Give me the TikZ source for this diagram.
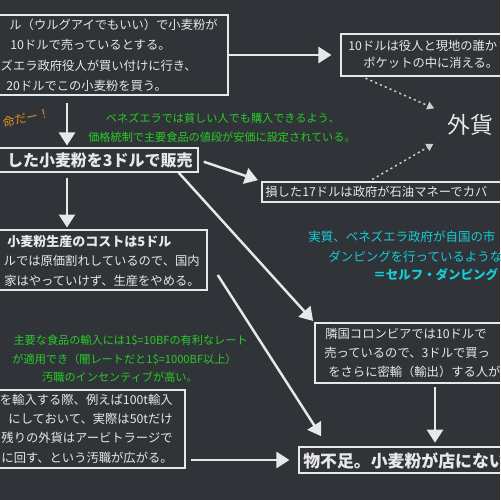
\documentclass[tikz,border=0pt]{standalone}
\usepackage{fontspec}
\setmainfont{Noto Sans CJK JP}
\usetikzlibrary{arrows.meta,fit,positioning}
\definecolor{board}{RGB}{48,51,55}
\definecolor{chalk}{RGB}{232,232,232}
\definecolor{chalkgreen}{RGB}{40,205,40}
\definecolor{chalkcyan}{RGB}{20,205,215}
\definecolor{chalkorange}{RGB}{232,140,30}

\begin{document}
\begin{tikzpicture}[x=0.02cm,y=-0.02cm,
box/.style={draw=chalk,line width=0.85pt,inner sep=0pt},
txt/.style={text=chalk,inner sep=0pt,font=\fontsize{7pt}{8pt}\selectfont},
txtb/.style={txt,font=\fontsize{7.4pt}{8pt}\selectfont\bfseries},
head/.style={txt,font=\fontsize{9.1pt}{10pt}\selectfont\bfseries},
note/.style={text=chalkgreen,inner sep=0pt,font=\fontsize{6.35pt}{7pt}\selectfont},
dump/.style={text=chalkcyan,inner sep=0pt,font=\fontsize{7.1pt}{8pt}\selectfont},
chalkarrow/.style={draw=chalk,line width=1.4pt,-{Triangle[width=0.32cm,length=0.26cm]}},
chalkdots/.style={draw=chalk!85!board,line width=0.85pt,dash pattern=on 1.2pt off 1.8pt,-{Triangle[width=0.16cm,length=0.14cm]}}]
\fill[board] (0,0) rectangle (500,500);
\clip (0,0) rectangle (500,500);
\node[box,fit={(-20,15) (228,95)}] (buy) {};
\node[box,fit={(341,34) (520,76)}] (leak) {};
\node[box,fit={(-20,148) (198,172)}] (sell) {};
\node[box,fit={(262,182) (520,202)}] (cover) {};
\node[box,fit={(-20,230) (207,290)}] (cost) {};
\node[box,fit={(315,323) (520,383)}] (smuggle) {};
\node[box,fit={(-20,390) (185,468)}] (graft) {};
\node[box,fit={(299,447) (520,473)}] (shortage) {};
\node[txt,anchor=east] (buy1) at (218,25) {ル（ウルグアイでもいい）で小麦粉が};
\node[txt,anchor=west] (buy2) at (10,45) {10ドルで売っているとする。};
\node[txt,anchor=east] (buy3) at (197,66) {ズエラ政府役人が買い付けに行き、};
\node[txt,anchor=west] (buy4) at (6,86) {20ドルでこの小麦粉を買う。};
\node[txt,anchor=west] (leak1) at (348,46) {10ドルは役人と現地の誰か};
\node[txt,anchor=west] (leak2) at (363,63) {ポケットの中に消える。};
\node[text=chalk,inner sep=0pt,font=\fontsize{13pt}{14pt}\selectfont,anchor=west] (fx) at (447,125) {外貨};
\node[text=chalkorange,inner sep=0pt,font=\fontsize{6.8pt}{8pt}\selectfont,anchor=east,rotate=12] (cry) at (50,113) {命だー！};
\node[note] (price1) at (223,118) {ベネズエラでは貧しい人でも購入できるよう、};
\node[note] (price2) at (222,137) {価格統制で主要食品の値段が安価に設定されている。};
\node[head,anchor=east] (sell1) at (193,160) {した小麦粉を3ドルで販売};
\node[txt,anchor=west] (cover1) at (265,192) {損した17ドルは政府が石油マネーでカバ};
\node[txtb,anchor=west] (cost1) at (7,242) {小麦粉生産のコストは5ドル};
\node[txt,anchor=east] (cost2) at (200,261) {ルでは原価割れしているので、国内};
\node[txt,anchor=east] (cost3) at (200,281) {家はやっていけず、生産をやめる。};
\node[dump,anchor=west] (dump1) at (308,237) {実質、ベネズエラ政府が自国の市};
\node[dump,anchor=west] (dump2) at (328,257) {ダンピングを行っているような};
\node[dump,font=\fontsize{7.1pt}{8pt}\selectfont\bfseries,anchor=west] (dump3) at (373,275) {＝セルフ・ダンピング};
\node[note,anchor=east] (rate1) at (248,340) {主要な食品の輸入には1\$=10BFの有利なレート};
\node[note,anchor=east] (rate2) at (237,359) {が適用でき（闇レートだと1\$=1000BF以上）};
\node[note] (rate3) at (120,377) {汚職のインセンティブが高い。};
\node[txt,anchor=west] (smuggle1) at (325,334) {隣国コロンビアでは10ドルで};
\node[txt,anchor=west] (smuggle2) at (324,353) {売っているので、3ドルで買っ};
\node[txt,anchor=west] (smuggle3) at (328,372) {をさらに密輸（輸出）する人が};
\node[txt,anchor=east] (graft1) at (173,400) {を輸入する際、例えば100t輸入};
\node[txt,anchor=east] (graft2) at (173,419) {にしておいて、実際は50tだけ};
\node[txt,anchor=east] (graft3) at (173,438) {残りの外貨はアービトラージで};
\node[txt,anchor=east] (graft4) at (173,458) {に回す、という汚職が広がる。};
\node[txt,font=\fontsize{9.6pt}{10pt}\selectfont\bfseries,anchor=west] (short1) at (303,461) {物不足。小麦粉が店にない};
\coordinate (spine) at (67,0);
\coordinate (drop) at (435,0);
\draw[chalkarrow,shorten >=5pt] (buy.east) -- (leak.west);
\draw[chalkarrow,shorten <=4pt,shorten >=1pt] (spine |- buy.south) -- (spine |- sell.north);
\draw[chalkarrow,shorten <=3pt,shorten >=1pt] (spine |- sell.south) -- (spine |- cost.north);
\draw[chalkarrow,shorten <=3pt,shorten >=2pt] (sell.east) -- (cover.north west);
\draw[chalkarrow,shorten >=1pt] ([xshift=-0.4cm]sell.south east) -- (smuggle.north west);
\draw[chalkarrow] ([xshift=0.2cm,yshift=-0.3cm]cost.east) -- ([xshift=0.46cm,yshift=0.2cm]shortage.north west);
\draw[chalkarrow,shorten <=2pt,shorten >=2pt] (drop |- smuggle.south) -- (drop |- shortage.north);
\draw[chalkarrow,shorten <=3pt,shorten >=5pt] (graft.east |- shortage.west) -- (shortage.west);
\draw[chalkdots,shorten <=2pt,shorten >=8pt] ([xshift=0.44cm]leak.south west) -- (fx.north west);
\draw[chalkdots,shorten <=2pt,shorten >=9pt] ([xshift=2.16cm]cover.north west) -- (fx.south west);
\end{tikzpicture}
\end{document}
